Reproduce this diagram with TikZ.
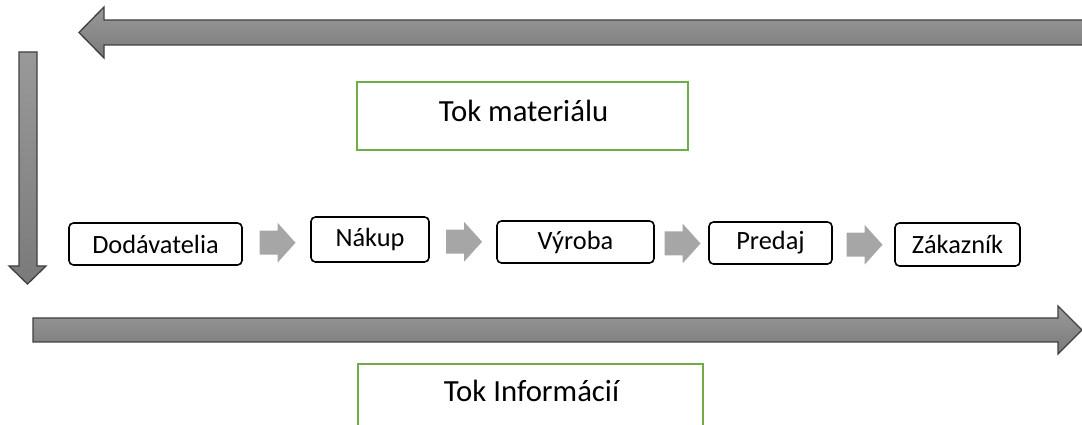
\documentclass[tikz,border=0pt]{standalone}
\usepackage{fontspec}
\setmainfont{Carlito}
\usetikzlibrary{calc}

\definecolor{tokzelena}{RGB}{112,173,71}
\definecolor{sipkasiva}{RGB}{166,166,166}
\definecolor{obrys}{RGB}{64,64,64}

\begin{document}
\begin{tikzpicture}
	[%
	x=0.02cm, y=-0.02cm,%
	krok/.style  ={rectangle,	rounded corners=2.5pt,	draw=black,		line width=0.9pt,	inner sep=0pt,	font=\fontsize{15}{18}\selectfont},%
	tok/.style   ={rectangle,	draw=tokzelena,	line width=1.15pt,	inner sep=0pt},%
	nadpis/.style={inner sep=0pt,	font=\fontsize{17.5}{21}\selectfont},%
	velka/.style ={draw=obrys,	line width=0.75pt,	top color=black!40,	bottom color=black!52},%
	sipka/.pic   ={\fill [sipkasiva] (-18,-12) -- (0,-12) -- (0,-20) -- (18,0) -- (0,20) -- (0,12) -- (-18,12) -- cycle;},%
	]

	\useasboundingbox (0,0) rectangle (1082,425);
	\clip (0,0) rectangle (1082,425);

	% velke sipky
	\path [velka] (1095,20) -- (104,20) -- (104,7) -- (79,32.5) -- (104,58) -- (104,45) -- (1095,45) -- cycle;
	\path [velka] (19,52) -- (37,52) -- (37,266) -- (46,266) -- (27.5,284) -- (9,266) -- (19,266) -- cycle;
	\path [velka] (33,318) -- (1058,318) -- (1058,306) -- (1082,330) -- (1058,354) -- (1058,342) -- (33,342) -- cycle;

	% tok materialu / informacii
	\node (tokmat) at (522.5,116) [tok, minimum width=6.62cm, minimum height=1.36cm] {};
	\node (tokmatText) at (523.5,122) [nadpis, anchor=base] {Tok materiálu};
	\node (tokinf) at (530.5,404) [tok, minimum width=6.9cm, minimum height=1.6cm] {};
	\node (tokinfText) at (531.5,402) [nadpis, anchor=base] {Tok Informácií};

	% kroky retazca
	\node (dod) at (155.5,244)	[krok, minimum width=3.46cm, minimum height=0.84cm] {Dodávatelia};
	\node (nak) at (370,239.5)	[krok, minimum width=2.36cm, minimum height=0.9cm] {Nákup};
	\node (vyr) at (575.5,242)	[krok, minimum width=3.14cm, minimum height=0.84cm] {Výroba};
	\node (pre) at (770.5,243)	[krok, minimum width=2.46cm, minimum height=0.84cm] {Predaj};
	\node (zak) at (957.5,244.5)	[krok, minimum width=2.5cm, minimum height=0.86cm] {Zákazník};

	% sipky medzi krokmi
	\foreach \a/\b in {dod/nak, nak/vyr, vyr/pre, pre/zak}%
		\pic at ($(\a.east)!0.5!(\b.west)+(1,1)$) {sipka};

\end{tikzpicture}
\end{document}
